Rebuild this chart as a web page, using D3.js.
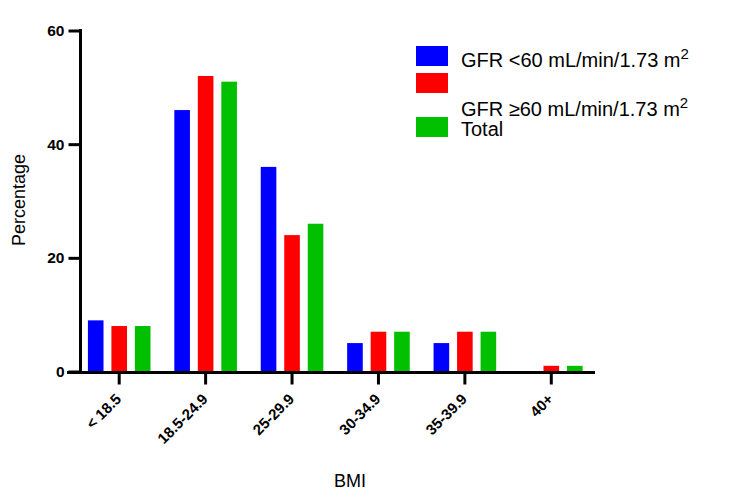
<!DOCTYPE html>
<html><head><meta charset="utf-8">
<script src="https://cdn.jsdelivr.net/npm/d3@7"></script>
<style>body{margin:0;background:#fff}svg{display:block}</style>
</head><body>
<svg id="c" width="750" height="503"></svg>
<script>
const categories = ["< 18.5","18.5-24.9","25-29.9","30-34.9","35-39.9","40+"];
const seriesNames = ["GFR <60 mL/min/1.73 m","GFR \u226560 mL/min/1.73 m","Total"];
const gfrLow = [9,46,36,5,5,0];
const gfrHigh = [8,52,24,7,7,1];
const total = [8,51,26,7,7,1];
const colors = ["#0000ff","#ff0000","#00c000"];
const yTicks = [0,20,40,60];

const svg = d3.select("#c");
const font = "Liberation Sans, Arial, sans-serif";
const x = d3.scaleBand().domain(categories).range([76,594.5]).padding(0);
const y = d3.scaleLinear().domain([0,60]).range([371.5,30.5]);
const sub = d3.scaleBand().domain([0,1,2]).range([-31.3,31.3]).paddingInner(0.336);
const series = [gfrLow,gfrHigh,total];

series.forEach((vals,si)=>{
  svg.append("g").selectAll("rect").data(categories).join("rect")
    .attr("x",(d)=>x(d)+x.bandwidth()/2+sub(si))
    .attr("width",sub.bandwidth())
    .attr("y",(d,i)=>y(vals[i]))
    .attr("height",(d,i)=>y(0)-y(vals[i]))
    .attr("fill",colors[si]);
});

// y axis
const ya = svg.append("g").attr("transform","translate(80.5,0)")
  .call(d3.axisLeft(y).tickValues(yTicks).tickSize(12).tickPadding(4));
ya.select(".domain").attr("stroke","#000").attr("stroke-width",3).attr("d","M0,29V373");
ya.selectAll(".tick line").attr("stroke","#000").attr("stroke-width",3);
ya.selectAll("text").attr("font-family",font).attr("font-weight","bold").attr("font-size",15.5).attr("fill","#000");

// x axis
const xa = svg.append("g").attr("transform","translate(0,372.5)")
  .call(d3.axisBottom(x).tickSize(12).tickPadding(8));
xa.select(".domain").attr("stroke","#000").attr("stroke-width",3).attr("d","M67,0H595");
xa.selectAll(".tick line").attr("stroke","#000").attr("stroke-width",3);
xa.selectAll("text").attr("font-family",font).attr("font-weight","bold").attr("font-size",15).attr("fill","#000")
  .attr("text-anchor","end").attr("x",0).attr("y",0).attr("dy","0")
  .attr("transform","translate(3,27.5) rotate(-45)");

// titles
svg.append("text").attr("x",350).attr("y",487).attr("text-anchor","middle")
  .attr("font-family",font).attr("font-size",18).text("BMI");
svg.append("text").attr("transform","translate(25,200) rotate(-90)").attr("text-anchor","middle")
  .attr("font-family",font).attr("font-size",18).text("Percentage");

// legend
const leg = svg.append("g");
const sq = [46,73,117];
sq.forEach((yy,i)=>leg.append("rect").attr("x",416).attr("y",yy).attr("width",32).attr("height",20).attr("fill",colors[i]));
const lt = [{t:seriesNames[0],y:67,sup:true},{t:seriesNames[1],y:116,sup:true},{t:seriesNames[2],y:136,sup:false}];
lt.forEach(d=>{
  const t = leg.append("text").attr("x",461).attr("y",d.y).attr("font-family",font).attr("font-size",20).attr("fill","#000").text(d.t);
  if(d.sup) t.append("tspan").attr("dy",-8).attr("font-size",15).text("2");
});
</script>
</body></html>
